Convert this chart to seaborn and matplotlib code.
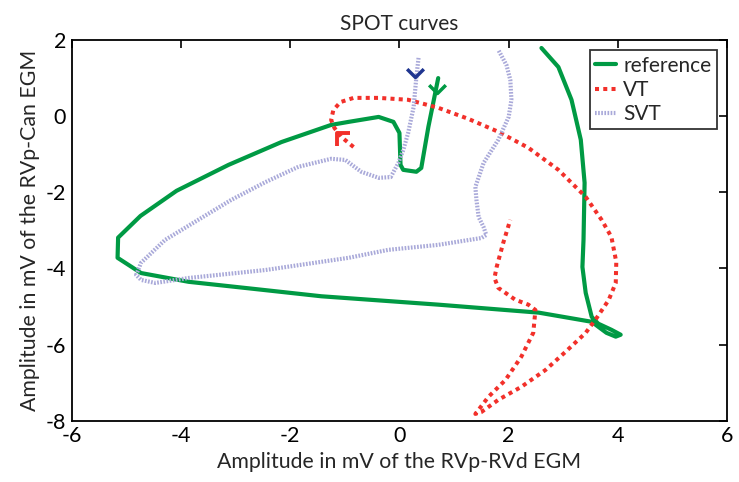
import numpy as np
import pandas as pd
import matplotlib
matplotlib.use('Agg')
import matplotlib.pyplot as plt
from matplotlib.path import Path
import seaborn as sns

# reference (green) curve
ref_x = [0.71, 0.64, 0.53, 0.40, 0.31, 0.07, 0.02, 0.00, -0.11, -0.38, -0.93, -1.25, -2.16,
         -3.13, -4.08, -4.74, -5.15, -5.16, -4.73, -3.86, -2.64, -1.43, 0.71, 2.55, 3.52,
         3.64, 3.79, 3.96, 4.05, 3.88, 3.64, 3.52, 3.41, 3.35, 3.37, 3.39, 3.32, 3.15, 2.91, 2.60]
ref_y = [1.00, 0.50, -0.28, -1.36, -1.46, -1.41, -1.28, -0.44, -0.15, -0.02, -0.15, -0.23, -0.68,
         -1.28, -1.96, -2.62, -3.19, -3.72, -4.12, -4.35, -4.54, -4.73, -4.95, -5.16, -5.40,
         -5.53, -5.69, -5.79, -5.74, -5.61, -5.45, -5.27, -4.64, -3.96, -3.25, -1.75, -0.62, 0.43, 1.29, 1.79]

# VT (red) curve
vt_x = [-0.84, -1.06, -1.19, -1.25, -1.21, -1.08, -0.84, -0.38, 0.16, 0.71, 1.26, 1.81, 2.36,
        2.91, 3.41, 3.70, 3.88, 3.97, 3.96, 3.83, 3.61, 3.41, 3.04, 2.67, 2.23, 1.81, 1.50,
        1.39, 1.63, 1.94, 2.23, 2.45, 2.49, 2.36, 2.12, 1.81, 1.74, 1.78, 1.90, 2.03]
vt_y = [-0.81, -0.55, -0.31, -0.10, 0.16, 0.37, 0.48, 0.48, 0.43, 0.22, -0.07, -0.41, -0.83,
        -1.41, -2.12, -2.72, -3.17, -3.83, -4.38, -4.83, -5.30, -5.69, -6.19, -6.67, -7.11, -7.45, -7.77,
        -7.82, -7.37, -6.93, -6.32, -5.69, -5.09, -4.95, -4.82, -4.51, -4.25, -3.96, -3.33, -2.72]

# SVT (lavender) curve
svt_x = [0.35, 0.31, 0.26, 0.16, 0.07, -0.02, -0.16, -0.38, -0.70, -0.99, -1.25, -1.85, -2.45,
         -3.08, -3.68, -4.29, -4.73, -4.82, -4.73, -4.47, -3.86, -2.45, -0.93, -0.20, 0.71, 1.50,
         1.59, 1.54, 1.45, 1.41, 1.39, 1.54, 1.81, 2.00, 2.05, 2.03, 1.96, 1.81]
svt_y = [1.53, 1.03, 0.24, -0.44, -0.89, -1.23, -1.60, -1.62, -1.46, -1.15, -1.12, -1.33, -1.73,
         -2.20, -2.72, -3.25, -3.85, -4.17, -4.30, -4.38, -4.25, -4.04, -3.72, -3.51, -3.38, -3.20,
         -3.12, -2.91, -2.65, -2.20, -1.86, -1.23, -0.62, -0.02, 0.43, 0.95, 1.34, 1.74]

# direction arrowheads (apex positions)
arrow_ref = (0.68, 0.61)
arrow_vt = (-1.14, -0.44)
arrow_svt = (0.29, 1.03)

green = '#009a44'
red = '#f2302a'
lavender = '#a9a9d9'
navy = '#1f3590'

sns.set_style('white')
plt.rcParams['font.family'] = ['Lato', 'DejaVu Sans']
plt.rcParams['axes.unicode_minus'] = False

fig = plt.figure(figsize=(7.39, 4.82), dpi=100)
ax = fig.add_axes([0.097, 0.127, 0.887, 0.79])

ref_df = pd.DataFrame({'x': ref_x, 'y': ref_y})
vt_df = pd.DataFrame({'x': vt_x, 'y': vt_y})
svt_df = pd.DataFrame({'x': svt_x, 'y': svt_y})

sns.lineplot(data=ref_df, x='x', y='y', sort=False, estimator=None, ax=ax,
             color=green, lw=3, label='reference')
sns.lineplot(data=vt_df, x='x', y='y', sort=False, estimator=None, ax=ax,
             color=red, lw=2.9, linestyle=(0, (1, 1.05)), label='VT')
sns.lineplot(data=svt_df, x='x', y='y', sort=False, estimator=None, ax=ax,
             color=lavender, lw=3, linestyle=(0, (0.4, 0.35)), label='SVT')

v_down = Path([(-1, 1), (0, 0), (1, 1)], [Path.MOVETO, Path.LINETO, Path.LINETO])
corner = Path([(1, 0), (0, 0), (0, -1)], [Path.MOVETO, Path.LINETO, Path.LINETO])
ax.plot(*arrow_ref, marker=v_down, ms=12, mew=2.5, mec=green, mfc='none', ls='none')
ax.plot(*arrow_svt, marker=v_down, ms=12, mew=2.5, mec=navy, mfc='none', ls='none')
ax.plot(*arrow_vt, marker=corner, ms=18, mew=2.8, mec=red, mfc='none', ls='none')

ax.set_xlim(-6, 6)
ax.set_ylim(-8, 2)
ax.set_xticks(np.arange(-6, 7, 2))
ax.set_yticks(np.arange(-8, 3, 2))
ax.tick_params(direction='in', length=6, width=1.2, top=True, right=True,
               labelsize=15.5, pad=4, colors='black')
for s in ax.spines.values():
    s.set_color('black')
    s.set_linewidth(1.3)

ax.set_title('SPOT curves', fontsize=15, pad=7)
ax.set_xlabel('Amplitude in mV of the RVp-RVd EGM', fontsize=15.3, labelpad=4)
ax.set_ylabel('Amplitude in mV of the RVp-Can EGM', fontsize=15.3, labelpad=4)

leg = ax.legend(loc='upper right', fontsize=15, frameon=True, fancybox=False,
                handlelength=1.0, handletextpad=0.35, borderpad=0.25, labelspacing=0.2,
                borderaxespad=0.5)
leg.get_frame().set_edgecolor('black')
leg.get_frame().set_linewidth(1.3)

fig.savefig('out.png', dpi=100)
